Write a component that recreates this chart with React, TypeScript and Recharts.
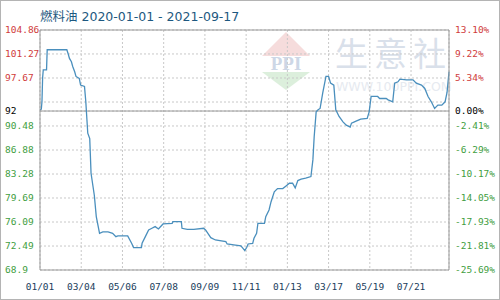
import React from 'react';
import { LineChart, Line, XAxis, YAxis, CartesianGrid, ReferenceLine } from 'recharts';

const START = '2020-01-01';
const END = '2021-09-17';

const dates = [
  '2020-01-01', '2020-01-03', '2020-01-04', '2020-01-05', '2020-01-06', '2020-01-11', '2020-01-12',
  '2020-02-11', '2020-02-13', '2020-02-15', '2020-02-18', '2020-02-20', '2020-02-23', '2020-02-25',
  '2020-03-01', '2020-03-03', '2020-03-09', '2020-03-11', '2020-03-14', '2020-03-17', '2020-03-19',
  '2020-03-24', '2020-03-27', '2020-04-01', '2020-04-06', '2020-04-14', '2020-04-21', '2020-04-26',
  '2020-04-29', '2020-05-14', '2020-05-20', '2020-05-23', '2020-06-04', '2020-06-05', '2020-06-10',
  '2020-06-15', '2020-06-20', '2020-06-25', '2020-06-30', '2020-07-07', '2020-07-21', '2020-07-22',
  '2020-08-04', '2020-08-05', '2020-08-13', '2020-08-23', '2020-09-07', '2020-09-10', '2020-09-18',
  '2020-09-25', '2020-10-11', '2020-10-13', '2020-10-23', '2020-11-03', '2020-11-05', '2020-11-09',
  '2020-11-12', '2020-11-14', '2020-11-21', '2020-11-23', '2020-11-27', '2020-11-29', '2020-12-09',
  '2020-12-11', '2020-12-16', '2020-12-19', '2020-12-24', '2020-12-29', '2021-01-06', '2021-01-11',
  '2021-01-16', '2021-01-21', '2021-01-25', '2021-01-29', '2021-02-03', '2021-02-10', '2021-02-18',
  '2021-02-21', '2021-02-23', '2021-02-26', '2021-03-01', '2021-03-04', '2021-03-08', '2021-03-13',
  '2021-03-17', '2021-03-20', '2021-03-25', '2021-03-28', '2021-04-02', '2021-04-08', '2021-04-13',
  '2021-04-19', '2021-04-21', '2021-04-28', '2021-05-05', '2021-05-15', '2021-05-18', '2021-05-21',
  '2021-05-31', '2021-06-03', '2021-06-13', '2021-06-16', '2021-06-23', '2021-06-26', '2021-07-01',
  '2021-07-04', '2021-07-14', '2021-07-24', '2021-07-29', '2021-08-06', '2021-08-11', '2021-08-16',
  '2021-08-21', '2021-08-26', '2021-08-31', '2021-09-06', '2021-09-11', '2021-09-14', '2021-09-17',
];

const prices = [
  92.9, 93.0, 94.1, 97.7, 98.9, 98.9, 101.9,
  101.9, 101.3, 100.6, 100.1, 99.4, 98.6, 97.9,
  97.6, 96.6, 96.4, 94.1, 89.4, 88.6, 83.4,
  80.1, 76.9, 74.4, 74.6, 74.6, 74.4, 73.9,
  74.0, 74.0, 72.9, 72.25, 72.25, 72.9, 73.9,
  74.9, 75.15, 75.4, 75.05, 75.8, 75.9, 76.15,
  76.15, 75.15, 75.0, 75.0, 75.15, 74.9, 73.75,
  73.4, 73.15, 72.8, 72.65, 72.5, 72.3, 71.8,
  72.3, 72.8, 72.9, 73.65, 74.4, 75.9, 75.9,
  76.9, 77.9, 79.1, 80.6, 81.1, 81.1, 81.5,
  81.9, 81.9, 81.2, 82.3, 82.5, 82.65, 82.9,
  85.4, 88.9, 92.6, 92.9, 93.1, 95.4, 97.9,
  97.9, 96.9, 96.6, 92.9, 91.9, 91.1, 90.6,
  90.3, 90.9, 91.2, 91.5, 91.6, 92.6, 94.9,
  94.9, 94.6, 94.6, 94.4, 94.1, 96.9, 97.1,
  97.5, 97.4, 97.4, 96.9, 96.6, 96.1, 94.9,
  94.1, 93.1, 93.6, 93.6, 94.1, 95.5, 98.6,
];

const xTickDates = [
  '2020-01-01', '2020-03-04', '2020-05-06', '2020-07-08', '2020-09-09',
  '2020-11-11', '2021-01-13', '2021-03-17', '2021-05-19', '2021-07-21',
];

const priceTicks = [104.86, 101.27, 97.67, 94.07, 90.48, 86.88, 83.28, 79.69, 76.09, 72.49, 68.9];
const priceLabels = ['104.86', '101.27', '97.67', '', '90.48', '86.88', '83.28', '79.69', '76.09', '72.49', '68.9'];
const pctLabels = ['13.10%', '9.22%', '5.34%', '', '-2.41%', '-6.29%', '-10.17%', '-14.05%', '-17.93%', '-21.81%', '-25.69%'];
const baseValue = 92.72;
const baseLabel = '92';
const basePctLabel = '0.00%';

const dayOf = (d: string) => Math.round((Date.parse(d) - Date.parse(START)) / 86400000);

const data = dates.map((d, i) => ({ day: dayOf(d), price: prices[i] }));
const xTicks = xTickDates.map(dayOf);
const yTicks = [...priceTicks, baseValue];

const MONO = '"DejaVu Sans Mono", monospace';
const RED = '#d03c3c';
const GREEN = '#3f9e3f';

const colorFor = (v: number) => (v === baseValue ? '#000' : v > baseValue ? RED : GREEN);

const labelFor = (v: number, pct: boolean) => {
  if (v === baseValue) return pct ? basePctLabel : baseLabel;
  const i = priceTicks.indexOf(v);
  return pct ? pctLabels[i] : priceLabels[i];
};

const LeftTick = ({ y, payload }: any) => (
  <text x={5} y={y} dy="0.35em" textAnchor="start" fontFamily={MONO} fontSize={9.5} fill={colorFor(payload.value)}>
    {labelFor(payload.value, false)}
  </text>
);

const RightTick = ({ y, payload }: any) => (
  <text x={455} y={y} dy="0.35em" textAnchor="start" fontFamily={MONO} fontSize={9.5} fill={colorFor(payload.value)}>
    {labelFor(payload.value, true)}
  </text>
);

const formatX = (day: number) => {
  const d = xTickDates[xTicks.indexOf(day)];
  return d ? d.slice(5).replace('-', '/') : '';
};

function Watermark() {
  return (
    <svg width={500} height={300} style={{ position: 'absolute', left: 0, top: 0 }}>
      <polygon points="286,32 262,56 310,56" fill="#f6dcdc" />
      <polygon points="262,72 310,72 286,90" fill="#dcefdc" />
      <text x={286} y={70} textAnchor="middle" fontFamily="Liberation Serif, serif" fontWeight="bold" fontSize={19} fill="#cdd7e6">
        PPI
      </text>
      <text x={335} y={66} fontFamily='"Noto Sans CJK SC", sans-serif' fontSize={33} fill="#d9e0ea" letterSpacing={6}>
        生意社
      </text>
      <text x={336} y={91} fontFamily='"DejaVu Sans", sans-serif' fontSize={12.5} fill="#e6eaf0">
        WWW.100PPI.COM
      </text>
    </svg>
  );
}

export default function App() {
  return (
    <div style={{ position: 'absolute', left: 0, top: 0, width: 500, height: 300, background: '#fff' }}>
      <Watermark />
      <div
        style={{
          position: 'absolute',
          left: 40,
          top: 6,
          fontFamily: '"DejaVu Sans", "Noto Sans CJK SC", sans-serif',
          fontSize: 12.5,
          color: '#1d5880',
          whiteSpace: 'nowrap',
        }}
      >
        燃料油 {START} - {END}
      </div>
      <div style={{ position: 'absolute', left: 0, top: 0 }}>
        <LineChart width={500} height={300} data={data} margin={{ top: 30, right: 0, bottom: 0, left: 0 }}>
          <CartesianGrid yAxisId="l" stroke="#c8c8c8" strokeDasharray="2 2" />
          <XAxis
            dataKey="day"
            type="number"
            domain={[0, dayOf(END)]}
            ticks={xTicks}
            tickFormatter={formatX}
            tickLine={false}
            axisLine={{ stroke: '#999' }}
            height={30}
            tickMargin={7}
            tick={{ fill: '#1a3d5c', fontFamily: MONO, fontSize: 9.5 }}
            interval={0}
          />
          <YAxis
            yAxisId="l"
            orientation="left"
            width={40}
            domain={[68.9, 104.86]}
            ticks={yTicks}
            interval={0}
            tickLine={false}
            axisLine={{ stroke: '#999' }}
            tick={<LeftTick />}
          />
          <YAxis
            yAxisId="r"
            orientation="right"
            width={51}
            domain={[68.9, 104.86]}
            ticks={yTicks}
            interval={0}
            tickLine={false}
            axisLine={{ stroke: '#999' }}
            tick={<RightTick />}
          />
          <ReferenceLine yAxisId="l" y={104.86} stroke="#999" />
          <ReferenceLine yAxisId="l" y={baseValue} stroke="#999" />
          <Line
            yAxisId="r"
            type="linear"
            dataKey="price"
            stroke="none"
            dot={false}
            activeDot={false}
            legendType="none"
            isAnimationActive={false}
          />
          <Line
            yAxisId="l"
            type="linear"
            dataKey="price"
            stroke="#4a8fbd"
            strokeWidth={1.3}
            dot={false}
            isAnimationActive={false}
          />
        </LineChart>
      </div>
      <div
        style={{
          position: 'absolute',
          left: 0,
          top: 0,
          width: 500,
          height: 300,
          boxSizing: 'border-box',
          border: '1px solid #b4b4b4',
          pointerEvents: 'none',
        }}
      />
    </div>
  );
}
